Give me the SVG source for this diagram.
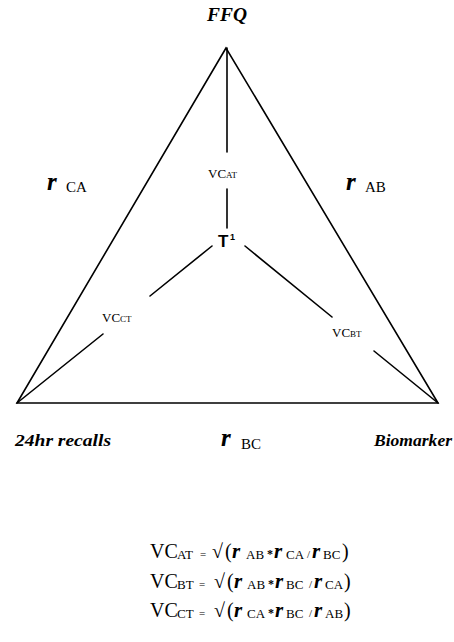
<svg xmlns="http://www.w3.org/2000/svg" width="454" height="642" viewBox="0 0 454 642">
<style>
.ln{stroke:#000;stroke-width:1.6;fill:none;stroke-linecap:round}
text{font-family:"Liberation Serif","Times New Roman","DejaVu Serif",serif;fill:#000}
.bi{font-weight:bold;font-style:italic}
.sb{font-family:"Liberation Sans","DejaVu Sans",sans-serif;font-weight:bold}
.rr{font-weight:bold;font-style:italic;font-size:25px}
.lab{font-size:15px}
.vc{font-size:13px}
.vs{font-size:9px}
.f1{font-size:20px}
.f2{font-size:13px}
.fp{font-size:20px}
.fr{font-weight:bold;font-style:italic;font-size:21px}
.fe{font-size:11px}
.fs{font-weight:bold;font-size:12px}
</style>
<g id="connectors">
<path class="ln" d="M226,48 L17,403 L438,403 Z"/>
<line class="ln" x1="227" y1="48" x2="227" y2="152"/>
<line class="ln" x1="227" y1="189" x2="227" y2="228"/>
<line class="ln" x1="212" y1="246" x2="150" y2="296"/>
<line class="ln" x1="103" y1="334" x2="17" y2="403"/>
<line class="ln" x1="245" y1="246" x2="332" y2="317"/>
<line class="ln" x1="374" y1="351" x2="438" y2="403"/>
</g>
<g id="node-ffq"><text class="bi" x="227" y="21" font-size="18" text-anchor="middle" textLength="40" lengthAdjust="spacingAndGlyphs">FFQ</text></g>
<g id="node-24hr"><text class="bi" x="15" y="446" font-size="17" textLength="96" lengthAdjust="spacingAndGlyphs">24hr recalls</text></g>
<g id="node-biomarker"><text class="bi" x="374" y="446" font-size="17" textLength="78" lengthAdjust="spacingAndGlyphs">Biomarker</text></g>
<g id="label-rca"><text class="rr" x="47" y="190">r</text><text class="lab" x="66" y="192">CA</text></g>
<g id="label-rab"><text class="rr" x="346" y="190">r</text><text class="lab" x="365" y="192">AB</text></g>
<g id="label-rbc"><text class="rr" x="221" y="446">r</text><text class="lab" x="241" y="449">BC</text></g>
<g id="node-vcat"><text class="vc" x="208" y="178">VC<tspan class="vs">AT</tspan></text></g>
<g id="node-vcct"><text class="vc" x="102" y="322">VC<tspan class="vs">CT</tspan></text></g>
<g id="node-vcbt"><text class="vc" x="332" y="337">VC<tspan class="vs">BT</tspan></text></g>
<g id="node-t"><text class="sb" x="218" y="247" font-size="17">T</text><text class="sb" x="230" y="240" font-size="9">1</text></g>
<g id="formulas">
<text x="0" y="558"><tspan class="f1" x="150">VC</tspan><tspan class="f2" x="177" dy="1">AT</tspan><tspan class="fe" x="200" dy="-1">=</tspan><tspan class="f1" x="212">√</tspan><tspan class="fp" x="225">(</tspan><tspan class="fr" x="232">r</tspan><tspan class="f2" x="246" dy="1">AB</tspan><tspan class="fs" x="267" dy="-1">*</tspan><tspan class="fr" x="274">r</tspan><tspan class="f2" x="286" dy="1">CA</tspan><tspan class="fe" x="307" dy="-1">/</tspan><tspan class="fr" x="312">r</tspan><tspan class="f2" x="323" dy="1">BC</tspan><tspan class="fp" x="342" dy="-1">)</tspan></text>
<text x="0" y="588"><tspan class="f1" x="150">VC</tspan><tspan class="f2" x="177" dy="1">BT</tspan><tspan class="fe" x="199" dy="-1">=</tspan><tspan class="f1" x="214">√</tspan><tspan class="fp" x="227">(</tspan><tspan class="fr" x="234">r</tspan><tspan class="f2" x="247" dy="1">AB</tspan><tspan class="fs" x="268" dy="-1">*</tspan><tspan class="fr" x="275">r</tspan><tspan class="f2" x="286" dy="1">BC</tspan><tspan class="fe" x="309" dy="-1">/</tspan><tspan class="fr" x="314">r</tspan><tspan class="f2" x="325" dy="1">CA</tspan><tspan class="fp" x="344" dy="-1">)</tspan></text>
<text x="0" y="617"><tspan class="f1" x="150">VC</tspan><tspan class="f2" x="177" dy="1">CT</tspan><tspan class="fe" x="199" dy="-1">=</tspan><tspan class="f1" x="214">√</tspan><tspan class="fp" x="227">(</tspan><tspan class="fr" x="234">r</tspan><tspan class="f2" x="247" dy="1">CA</tspan><tspan class="fs" x="268" dy="-1">*</tspan><tspan class="fr" x="275">r</tspan><tspan class="f2" x="286" dy="1">BC</tspan><tspan class="fe" x="309" dy="-1">/</tspan><tspan class="fr" x="314">r</tspan><tspan class="f2" x="325" dy="1">AB</tspan><tspan class="fp" x="344" dy="-1">)</tspan></text>
</g>
</svg>
